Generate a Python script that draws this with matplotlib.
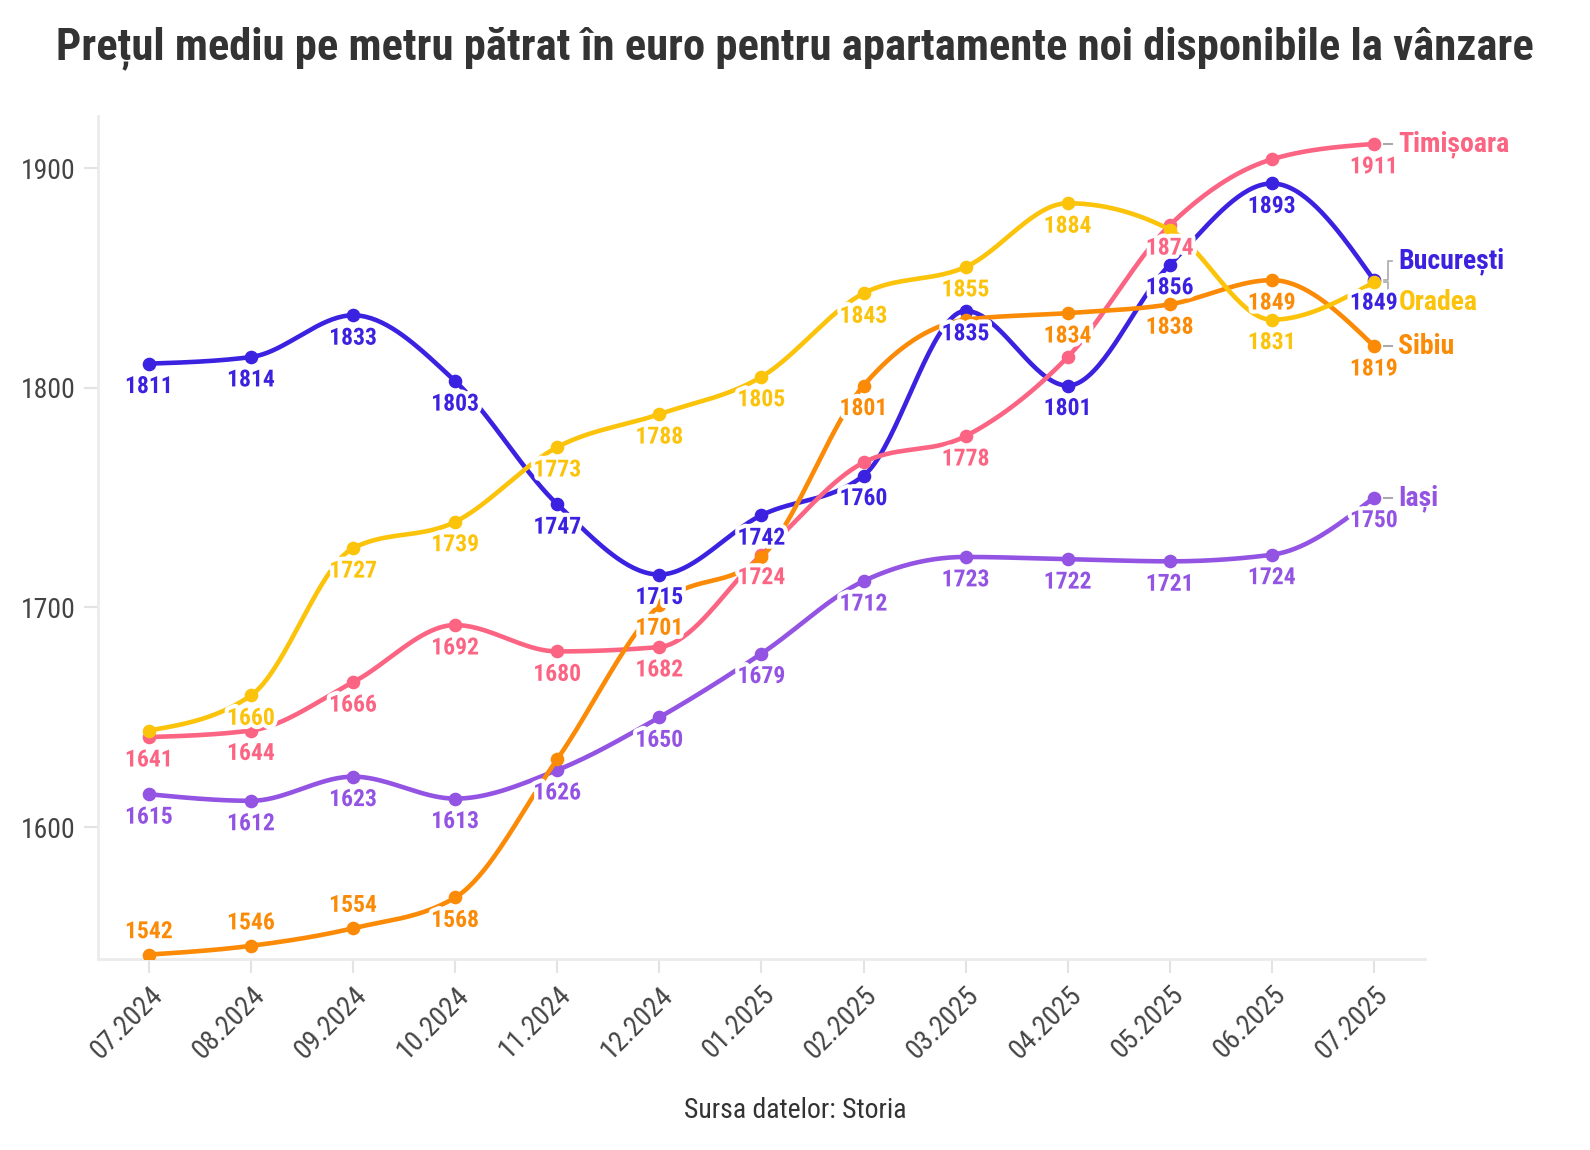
import numpy as np
import matplotlib
matplotlib.use("Agg")
import matplotlib.pyplot as plt
import matplotlib.font_manager as fm
import matplotlib.patheffects as pe

# ---------------- data ----------------
months = ["07.2024", "08.2024", "09.2024", "10.2024", "11.2024", "12.2024",
          "01.2025", "02.2025", "03.2025", "04.2025", "05.2025", "06.2025", "07.2025"]
bucuresti = [1811, 1814, 1833, 1803, 1747, 1715, 1742, 1760, 1835, 1801, 1856, 1893, 1849]
timisoara = [1641, 1644, 1666, 1692, 1680, 1682, 1724, 1766, 1778, 1814, 1874, 1904, 1911]
oradea = [1644, 1660, 1727, 1739, 1773, 1788, 1805, 1843, 1855, 1884, 1872, 1831, 1848]
sibiu = [1542, 1546, 1554, 1568, 1631, 1701, 1723, 1801, 1831, 1834, 1838, 1849, 1819]
iasi = [1615, 1612, 1623, 1613, 1626, 1650, 1679, 1712, 1723, 1722, 1721, 1724, 1750]

title = "Prețul mediu pe metru pătrat în euro pentru apartamente noi disponibile la vânzare"
source = "Sursa datelor: Storia"

# ---------------- fonts ----------------
avail = {f.name for f in fm.fontManager.ttflist}
FONT = "Roboto"
for c in ["Roboto Condensed", "Liberation Sans Narrow", "Roboto"]:
    if c in avail:
        FONT = c
        break
plt.rcParams["font.family"] = [FONT, "DejaVu Sans"]

# ---------------- styles ----------------
series = [
    ("București", bucuresti, "#3b22e0"),
    ("Timișoara", timisoara, "#fb6482"),
    ("Iași", iasi, "#9353e3"),
    ("Sibiu", sibiu, "#fb8a06"),
    ("Oradea", oradea, "#fcc30b"),
]
hidden = {"Oradea": {0, 10, 12}, "Sibiu": {4, 6, 8}, "Timișoara": {7, 9, 11}}
above = {"Sibiu": {0, 1, 2}}
name_dy = {"București": 8.5, "Oradea": -9.0}


def monotone_x(x, y, n=40):
    x = np.asarray(x, float)
    y = np.asarray(y, float)
    h = np.diff(x)
    s = np.diff(y) / h
    m = np.zeros_like(y)
    for i in range(1, len(x) - 1):
        h0, h1 = h[i - 1], h[i]
        s0, s1 = s[i - 1], s[i]
        p = (s0 * h1 + s1 * h0) / (h0 + h1)
        m[i] = (np.sign(s0) + np.sign(s1)) * min(abs(s0), abs(s1), 0.5 * abs(p))
    m[0] = (3 * s[0] - m[1]) / 2
    m[-1] = (3 * s[-1] - m[-2]) / 2
    xs, ys = [], []
    t = np.linspace(0, 1, n)
    for i in range(len(x) - 1):
        hh = h[i]
        h00 = 2 * t**3 - 3 * t**2 + 1
        h10 = t**3 - 2 * t**2 + t
        h01 = -2 * t**3 + 3 * t**2
        h11 = t**3 - t**2
        xs.append(x[i] + t * hh)
        ys.append(h00 * y[i] + h10 * hh * m[i] + h01 * y[i + 1] + h11 * hh * m[i + 1])
    return np.concatenate(xs), np.concatenate(ys)


fig = plt.figure(figsize=(15.9, 11.5), dpi=100)
ax = fig.add_axes([0.0616, 0.1661, 0.8346, 0.7330])
xi = np.arange(len(months))

for k, (name, vals, col) in enumerate(series):
    cx, cy = monotone_x(xi, vals)
    ax.plot(cx, cy, color=col, lw=3.3, zorder=2 + k, solid_capstyle="round")
    ax.plot(xi, vals, "o", color=col, ms=8.8, zorder=2 + k)

halo = [pe.withStroke(linewidth=6, foreground="white")]
for k, (name, vals, col) in enumerate(series):
    for i, v in enumerate(vals):
        if i in hidden.get(name, set()):
            continue
        dy = 16.5 if i in above.get(name, set()) else -16.5
        ax.annotate(f"{v}", (i, v), xytext=(0, dy), textcoords="offset points",
                    ha="center", va="center", fontsize=17, fontweight="bold",
                    color=col, path_effects=halo, zorder=20)
    last = len(vals) - 1
    ly = vals[-1] + name_dy.get(name, 0.0)
    ax.text(last + 0.24, ly, name, ha="left", va="center", fontsize=20,
            fontweight="bold", color=col, zorder=21)
    if name in name_dy:
        ax.plot([last + 0.1, last + 0.14, last + 0.14, last + 0.18],
                [vals[-1], vals[-1], ly, ly], color="#aaaaaa", lw=1.2, zorder=1)
    else:
        ax.plot([last + 0.1, last + 0.18], [vals[-1], vals[-1]], color="#aaaaaa", lw=1.5, zorder=1)

ax.set_xlim(-0.5, 12.5)
ax.set_ylim(1540, 1923.7)
ax.set_yticks([1600, 1700, 1800, 1900])
ax.set_xticks(xi)
ax.set_xticklabels(months, rotation=45, ha="right", rotation_mode="anchor")
ax.tick_params(axis="both", colors="#e3e3e3", labelcolor="#444444", labelsize=20,
               length=10, width=1.5)
ax.tick_params(axis="y", pad=6)
ax.tick_params(axis="x", pad=6)
for sp in ["top", "right"]:
    ax.spines[sp].set_visible(False)
for sp in ["left", "bottom"]:
    ax.spines[sp].set_color("#ebebeb")
    ax.spines[sp].set_linewidth(2)

t = fig.text(0.5, 0.958, title, ha="center", va="center", fontsize=33,
             fontweight="bold", color="#333333")
fig.canvas.draw()
w = t.get_window_extent().width
t.set_fontsize(33 * 1479 / w)

fig.text(0.5, 0.034, source, ha="center", va="center", fontsize=20, color="#333333")

fig.savefig("out.png", dpi=100)
